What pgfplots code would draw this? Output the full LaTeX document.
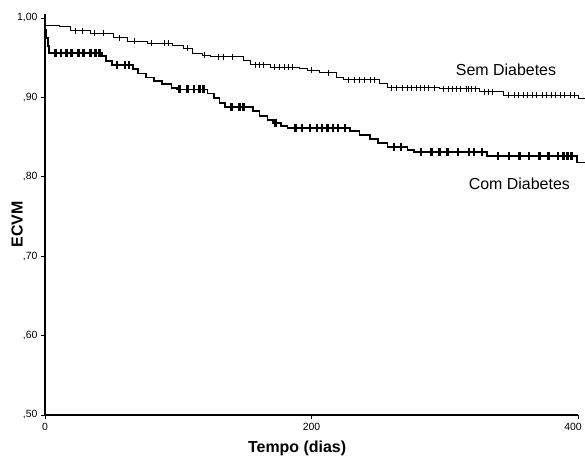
\documentclass[border=0pt]{standalone}
\usepackage{fontspec}
\setmainfont{Liberation Sans}
\usepackage{pgfplots}
\pgfplotsset{compat=1.18}

\begin{document}
\begin{tikzpicture}
\begin{axis}[
  scale only axis,
  width=533bp, height=401bp,
  xmin=0, xmax=400,
  ymin=0.5, ymax=1.005,
  axis x line=bottom, axis y line=left,
  axis line style={-, line width=1.3bp},
  clip=false,
  xtick={0,200,400},
  xticklabels={0,200,\makebox[0pt]{\hspace*{-10bp}400}},
  ytick={0.5,0.6,0.7,0.8,0.9,1.0},
  yticklabels={{,50},{,60},{,70},{,80},{,90},{1,00}},
  tick align=outside, major tick length=4bp,
  tick style={line width=0.8bp, black},
  tick label style={font=\fontsize{10.5}{12}\selectfont},
  xticklabel style={yshift=-1bp},
  xlabel={\textbf{Tempo (dias)}},
  ylabel={\textbf{ECVM}},
  label style={font=\fontsize{16}{19}\selectfont},
  xlabel style={at={(axis description cs:0.473,-0.082)}, anchor=center},
  ylabel style={at={(axis description cs:-0.0525,0.476)}, anchor=center, rotate=0},
]
% Sem Diabetes
\addplot[const plot, black, line width=0.9bp] coordinates {
  (0,1.00)(0.5,0.991)(11,0.989)(19,0.984)(34,0.981)(51,0.975)(62,0.971)
  (77,0.968)(96,0.965)(104,0.962)(111,0.955)(118,0.953)(124,0.951)
  (149,0.946)(154,0.941)(169,0.938)(191,0.937)(197,0.934)(206,0.931)
  (219,0.925)(224,0.922)(251,0.917)(257,0.912)(296,0.911)(326,0.907)
  (344,0.903)(400,0.899)(405,0.899)};
\addplot[only marks, mark=|, mark size=3bp, black, line width=0.9bp] coordinates {
  (23,0.984)(28,0.984)(37,0.981)(44,0.981)(56,0.975)(67,0.971)(80,0.968)
  (90,0.968)(93,0.968)(107,0.962)(120,0.953)(130,0.951)(134,0.951)(141,0.951)
  (158,0.941)(161,0.941)(164,0.941)(172,0.938)(176,0.938)(180,0.938)
  (183,0.938)(186,0.938)(200,0.934)(213,0.931)(228,0.922)(232,0.922)
  (236,0.922)(240,0.922)(244,0.922)(247,0.922)(260,0.912)(264,0.912)
  (268,0.912)(272,0.912)(275,0.912)(279,0.912)(282,0.912)(285,0.912)
  (288,0.912)(292,0.912)(299,0.911)(303,0.911)(306,0.911)(309,0.911)
  (312,0.911)(316,0.911)(318,0.911)(320,0.911)(323,0.911)(330,0.907)
  (333,0.907)(336,0.907)(348,0.903)(352,0.903)(355,0.903)(359,0.903)
  (362,0.903)(366,0.903)(369,0.903)(373,0.903)(376,0.903)(380,0.903)
  (383,0.903)(387,0.903)(390,0.903)(394,0.903)(397,0.903)};
% Com Diabetes
\addplot[const plot, black, line width=1.8bp] coordinates {
  (0,1.00)(0.3,0.985)(1,0.975)(2,0.965)(3,0.956)(43,0.952)(46,0.946)
  (50,0.941)(66,0.936)(70,0.930)(76,0.925)(82,0.921)(88,0.917)(95,0.912)
  (99,0.910)(122,0.905)(127,0.899)(131,0.893)(135,0.888)(156,0.883)
  (161,0.877)(167,0.872)(171,0.868)(177,0.864)(182,0.861)(229,0.858)
  (236,0.853)(244,0.848)(250,0.843)(257,0.838)(272,0.834)(277,0.831)
  (332,0.826)(399,0.818)(405,0.818)};
\addplot[only marks, mark=|, mark size=4bp, black, line width=2.4bp] coordinates {
  (0,0.998)(0,0.992)(8,0.956)(12,0.956)(16,0.956)(20,0.956)(25,0.956)
  (29,0.956)(34,0.956)(38,0.956)(41,0.956)(54,0.941)(60,0.941)(63,0.941)
  (101,0.910)(107,0.910)(112,0.910)(116,0.910)(119,0.910)(140,0.888)
  (146,0.888)(149,0.888)(173,0.868)(188,0.861)(193,0.861)(199,0.861)
  (204,0.861)(208,0.861)(212,0.861)(216,0.861)(220,0.861)(225,0.861)
  (262,0.838)(267,0.838)(282,0.831)(290,0.831)(296,0.831)(302,0.831)
  (310,0.831)(318,0.831)(322,0.831)(328,0.831)(340,0.826)(348,0.826)
  (356,0.826)(363,0.826)(371,0.826)(378,0.826)(385,0.826)(389,0.826)
  (392,0.826)(395,0.826)};
\node[font=\fontsize{16}{19}\selectfont] at (axis cs:346,0.9345) {Sem Diabetes};
\node[font=\fontsize{16}{19}\selectfont] at (axis cs:356,0.791) {Com Diabetes};
\end{axis}
\pgfresetboundingbox
\path[use as bounding box] (-45bp,-45bp) rectangle (540bp,415bp);
\end{tikzpicture}
\end{document}
